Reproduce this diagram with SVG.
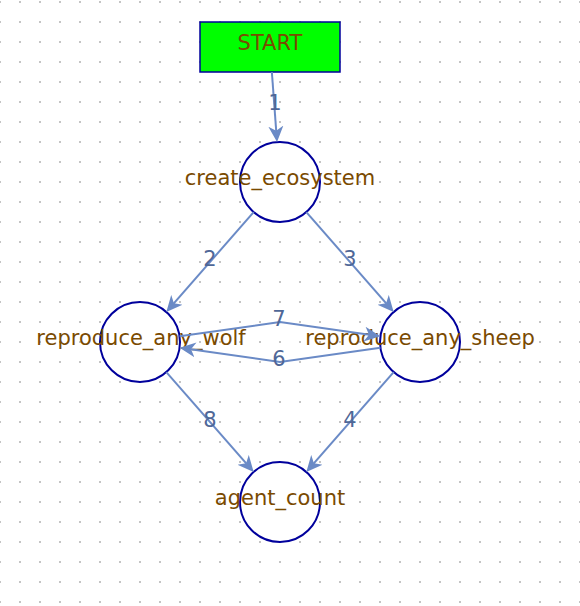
<svg xmlns="http://www.w3.org/2000/svg" width="580" height="606" viewBox="0 0 580 606">
<style>
.node{fill:#ffffff;stroke:#00009c;stroke-width:2}
.start{fill:#00ff00;stroke:#00009c;stroke-width:1.5}
.nlabel{font-family:"DejaVu Sans",sans-serif;font-size:21px;fill:#7a4a00;text-anchor:middle}
.edge{fill:none;stroke:#6a8ac6;stroke-width:2}
.elabel{font-family:"DejaVu Sans",sans-serif;font-size:21px;fill:#4f6797;text-anchor:middle}
</style>
<defs>
<pattern id="grid" patternUnits="userSpaceOnUse" x="-1" y="1" width="20" height="20">
<rect x="0" y="0" width="2" height="2" fill="#c4c4c4"/>
</pattern>
<marker id="arrow" markerUnits="userSpaceOnUse" markerWidth="16" markerHeight="16" viewBox="0 0 16 16" refX="5" refY="8" orient="auto">
<path d="M16,8 L0,0.5 L4.5,8 L0,15.5 Z" fill="#6a8ac6"/>
</marker>
</defs>
<rect x="0" y="0" width="580" height="606" fill="#ffffff"/>
<rect x="0" y="0" width="580" height="606" fill="url(#grid)"/>
<g id="nodes">
<g id="START">
<rect class="start" x="200" y="22" width="140" height="50"/>
<text class="nlabel" x="270" y="50">START</text>
</g>
<g id="create_ecosystem">
<circle class="node" cx="280" cy="182" r="40"/>
<text class="nlabel" x="280" y="185">create_ecosystem</text>
</g>
<g id="reproduce_any_wolf">
<circle class="node" cx="140" cy="342" r="40"/>
<text class="nlabel" x="141" y="345">reproduce_any_wolf</text>
</g>
<g id="reproduce_any_sheep">
<circle class="node" cx="420" cy="342" r="40"/>
<text class="nlabel" x="420" y="345">reproduce_any_sheep</text>
</g>
<g id="agent_count">
<circle class="node" cx="280" cy="502" r="40"/>
<text class="nlabel" x="280" y="505">agent_count</text>
</g>
</g>
<g id="connectors">
<path class="edge" marker-end="url(#arrow)" d="M271.85,72 L276.23,131.14"/>
<path class="edge" marker-end="url(#arrow)" d="M253.66,212.1 L173.58,303.62"/>
<path class="edge" marker-end="url(#arrow)" d="M306.34,212.1 L386.42,303.62"/>
<path class="edge" marker-end="url(#arrow)" d="M393.66,372.1 L313.58,463.62"/>
<path class="edge" marker-end="url(#arrow)" d="M166.34,372.1 L246.42,463.62"/>
<path class="edge" marker-end="url(#arrow)" d="M179.6,336.34 L280,322 L369.5,334.78"/>
<path class="edge" marker-end="url(#arrow)" d="M380.4,347.66 L280,362 L190.5,349.22"/>
<text class="elabel" x="275" y="109.5">1</text>
<text class="elabel" x="210" y="265.5">2</text>
<text class="elabel" x="350" y="265.5">3</text>
<text class="elabel" x="350" y="426.5">4</text>
<text class="elabel" x="279" y="365.5">6</text>
<text class="elabel" x="279" y="325.5">7</text>
<text class="elabel" x="210" y="426.5">8</text>
</g>
</svg>
